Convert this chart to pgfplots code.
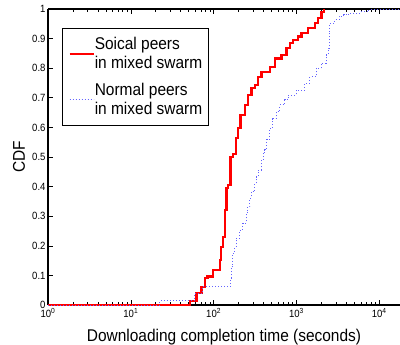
\documentclass[border=0pt]{standalone}
\usepackage{pgfplots}
\pgfplotsset{compat=1.18}
\usepackage{fontspec}
\setmainfont{Liberation Sans}[FakeStretch=0.91]

\definecolor{cdfred}{RGB}{255,0,0}
\definecolor{cdfblue}{RGB}{100,100,255}

\begin{document}
\begin{tikzpicture}
\begin{axis}[
  scale only axis,
  width=352bp, height=296bp,
  xmode=log,
  xmin=1, xmax=17800,
  ymin=0, ymax=1,
  axis x line=box,
  axis y line=left,
  y axis line style={-},
  axis line style={line width=1.3bp, black},
  tick align=inside,
  major tick length=5bp,
  minor tick length=3bp,
  every tick/.style={black, line width=0.6bp},
  xtick={1,10,100,1000,10000},
  xticklabels={10\textsuperscript{0},10\textsuperscript{1},10\textsuperscript{2},10\textsuperscript{3},10\textsuperscript{4}},
  ytick={0,0.1,0.2,0.3,0.4,0.5,0.6,0.7,0.8,0.9,1},
  yticklabels={0,0.1,0.2,0.3,0.4,0.5,0.6,0.7,0.8,0.9,1},
  ticklabel style={font=\fontsize{10.5bp}{12bp}\selectfont},
  yticklabel style={xshift=1bp},
  xlabel={Downloading completion time (seconds)},
  ylabel={CDF},
  every axis x label/.style={at={(axis description cs:0.5,0)}, anchor=base, yshift=-36bp,
    font=\fontsize{17bp}{19bp}\selectfont},
  every axis y label/.style={at={(axis description cs:0,0.5)}, xshift=-29bp, anchor=center, rotate=90,
    font=\fontsize{17bp}{19bp}\selectfont},
  legend image code/.code={\draw[#1] (0bp,0bp) -- (24bp,0bp);},
  legend style={
    at={(axis description cs:0.04,0.936)}, anchor=north west,
    draw=black, line width=1bp,
    font=\fontsize{17bp}{19bp}\selectfont,
    nodes={align=left, inner sep=0pt},
    inner xsep=6bp, inner ysep=9bp,
    column sep=0bp, row sep=13bp,
  },
  legend cell align=left,
]

% social peers in the mixed swarm
\addplot[const plot, cdfred, line width=2.2bp] coordinates {
  (1,0) (51.4,0.013) (62,0.04) (71.2,0.062) (78.1,0.09) (84.2,0.096)
  (98.4,0.118) (118.5,0.152) (124,0.197) (130,0.23) (136,0.32) (143,0.394)
  (149,0.405) (160,0.50) (171,0.51) (185,0.563) (197,0.597) (211,0.642)
  (238,0.676) (260,0.709) (286,0.732) (314,0.743) (344,0.771) (378,0.788)
  (476,0.805) (547,0.833) (659,0.845) (757,0.868) (830,0.885) (910,0.895)
  (1045,0.907) (1148,0.918) (1380,0.935) (1663,0.952) (1823,0.97)
  (2004,0.99) (2137,1.0)
};
\addlegendentry{Soical peers\\in mixed swarm}

% normal peers in the mixed swarm
\addplot[const plot, cdfblue, line width=1bp, dash pattern=on 1bp off 2bp] coordinates {
  (1,0) (22.4,0.014) (59,0.04) (74,0.064) (161,0.09) (164,0.13) (171,0.175)
  (180,0.197) (188,0.226) (207,0.253) (226,0.277) (249,0.311) (260,0.332)
  (273,0.361) (286,0.383) (313,0.41) (329,0.434) (344,0.456) (378,0.49)
  (395,0.514) (414,0.525) (440,0.56) (476,0.597) (521,0.63) (573,0.653)
  (629,0.676) (722,0.693) (792,0.709) (1000,0.726) (1260,0.749) (1449,0.771)
  (1745,0.799) (2004,0.816) (2303,0.845) (2410,0.868) (2477,0.923)
  (2524,0.952) (2900,0.963) (3300,0.975) (3700,0.98) (4300,0.985)
  (6000,0.99) (7500,0.997) (17800,0.997)
};
\addlegendentry{Normal peers\\in mixed swarm}

\end{axis}
\pgfresetboundingbox
\path[use as bounding box] (-48bp,-40bp) rectangle (352bp,305bp);
\end{tikzpicture}
\end{document}
